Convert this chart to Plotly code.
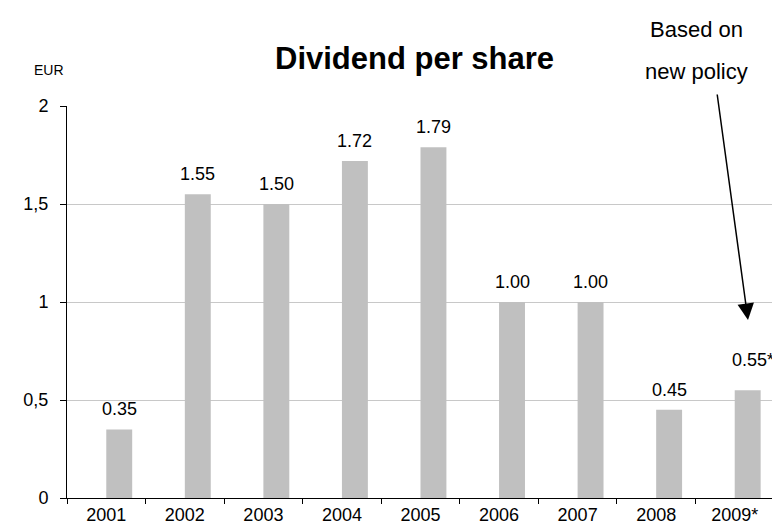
import plotly.graph_objects as go

years = ["2001", "2002", "2003", "2004", "2005", "2006", "2007", "2008", "2009*"]
dividends = [0.35, 1.55, 1.50, 1.72, 1.79, 1.00, 1.00, 0.45, 0.55]
value_labels = ["0.35", "1.55", "1.50", "1.72", "1.79", "1.00", "1.00", "0.45", "0.55*"]
y_tickvals = [0, 0.5, 1, 1.5, 2]
y_ticktext = ["0", "0,5", "1", "1,5", "2"]

FONT = "Arial, Liberation Sans, sans-serif"
W, H = 780, 525
L, R, T, B = 59, 14, 98, 35
pw, ph = W - L - R, H - T - B
BAR_W = 0.33

def px_x(p):
    return (p - L) / pw

def px_y(p):
    return (H - B - p) / ph

fig = go.Figure()
fig.add_trace(go.Bar(
    x=years, y=dividends,
    width=BAR_W, offset=0.0,
    marker=dict(color="#c0c0c0", line=dict(width=0)),
    hoverinfo="skip",
))

annotations = []
for i, (v, lab) in enumerate(zip(dividends, value_labels)):
    star = lab.endswith("*")
    annotations.append(dict(
        x=i + BAR_W / 2, y=v, xref="x", yref="y", text=lab, showarrow=False,
        xanchor="center", yanchor="bottom", xshift=(5 if star else 0),
        yshift=8 + (10 if star else 0),
        font=dict(family=FONT, size=18, color="#000000"),
    ))

annotations += [
    dict(x=px_x(406), y=px_y(50), xref="paper", yref="paper", text="<b>Dividend per share</b>",
         showarrow=False, xanchor="center", yanchor="middle",
         font=dict(family=FONT, size=31, color="#000000")),
    dict(x=px_x(41), y=px_y(62), xref="paper", yref="paper", text="EUR",
         showarrow=False, xanchor="center", yanchor="middle",
         font=dict(family=FONT, size=14, color="#000000")),
    dict(x=px_x(688), y=px_y(21), xref="paper", yref="paper", text="Based on",
         showarrow=False, xanchor="center", yanchor="middle",
         font=dict(family=FONT, size=22, color="#000000")),
    dict(x=px_x(688), y=px_y(63), xref="paper", yref="paper", text="new policy",
         showarrow=False, xanchor="center", yanchor="middle",
         font=dict(family=FONT, size=22, color="#000000")),
    dict(x=px_x(740), y=px_y(312), xref="paper", yref="paper", text="",
         showarrow=True, ax=-31, ay=-227, axref="pixel", ayref="pixel",
         arrowhead=2, arrowsize=2.2, arrowwidth=1.5, arrowcolor="#000000"),
]

fig.update_layout(
    width=W, height=H,
    margin=dict(l=L, r=R, t=T, b=B, pad=0, autoexpand=False),
    paper_bgcolor="white", plot_bgcolor="white",
    showlegend=False,
    annotations=annotations,
    font=dict(family=FONT, size=18, color="#000000"),
    shapes=[dict(type="line", xref="paper", yref="paper", x0=1, x1=1, y0=0, y1=1,
                 line=dict(color="#c8c8c8", width=1))],
)
fig.update_xaxes(
    type="category", range=[-0.5, 8.5],
    showline=True, linecolor="#000000", linewidth=1,
    ticks="outside", tickson="boundaries", ticklen=5, tickcolor="#000000",
    showgrid=False, tickfont=dict(family=FONT, size=18, color="#000000"),
    ticklabelstandoff=0, automargin=False,
    fixedrange=True,
)
fig.update_yaxes(
    range=[0, 2], tickvals=y_tickvals, ticktext=y_ticktext,
    showline=True, linecolor="#000000", linewidth=1,
    ticks="outside", ticklen=6, tickcolor="#000000",
    showgrid=True, gridcolor="#c8c8c8", gridwidth=1, zeroline=False,
    tickfont=dict(family=FONT, size=18, color="#000000"),
    ticklabelstandoff=8, automargin=False,
    fixedrange=True,
)

fig.write_html("out.html")
